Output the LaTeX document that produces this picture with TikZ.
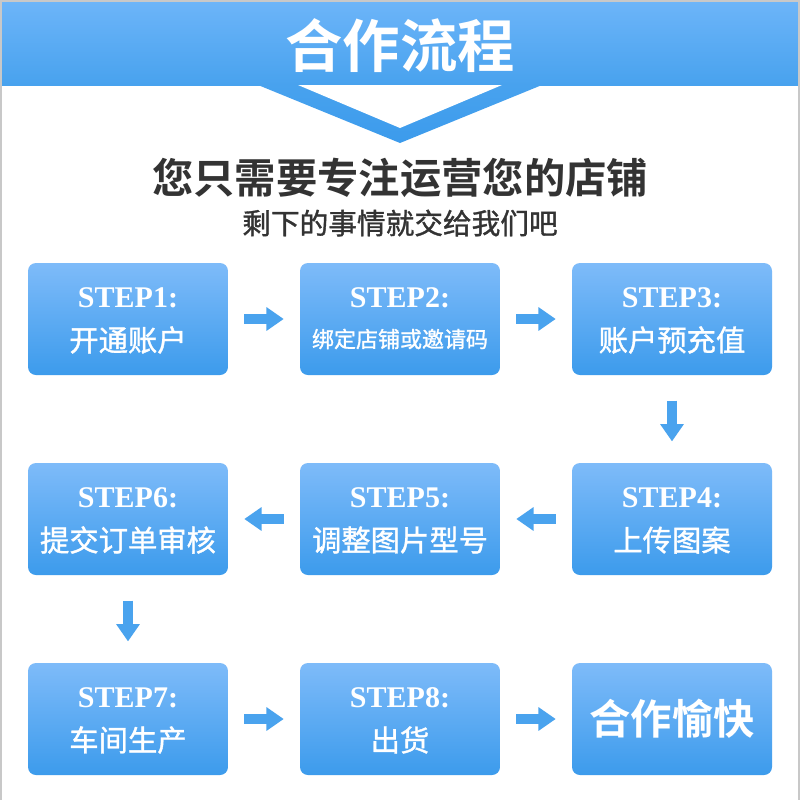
\documentclass[tikz,border=0pt]{standalone}
\usepackage{fontspec}
\usetikzlibrary{arrows.meta}
\newfontfamily\cjk{Noto Sans CJK SC}[BoldFont={Noto Sans CJK SC Bold}]
\newfontfamily\cjkmed{Noto Sans CJK SC}[FakeBold=1.2]
\newfontfamily\stepfont{Liberation Serif}[BoldFont={Liberation Serif Bold}]
\definecolor{bannertop}{HTML}{6DB5F9}
\definecolor{bannerbot}{HTML}{48A2EE}
\definecolor{boxtop}{HTML}{7EBBF9}
\definecolor{boxbot}{HTML}{3C9BEC}
\definecolor{arrowblue}{HTML}{4AA3EE}
\definecolor{darktext}{HTML}{333333}
\definecolor{framegray}{HTML}{C8C8C8}
\begin{document}
\begin{tikzpicture}[x=0.75pt,y=-0.75pt,
  stepbox/.style={rounded corners=6pt, top color=boxtop, bottom color=boxbot,
    minimum width=150pt, minimum height=84pt, inner sep=0pt, draw=none},
  flowarrow/.style={draw=arrowblue, line width=7pt,
    -{Triangle[length=13pt,width=17pt]}, shorten <=12pt, shorten >=12pt},
  steplabel/.style={text=white, font=\stepfont\bfseries\fontsize{22.5pt}{24pt}\selectfont},
  cnlabel/.style={text=white, font=\cjkmed\fontsize{22pt}{24pt}\selectfont}
]
\useasboundingbox (0,0) rectangle (800,800);
\fill[white] (0,0) rectangle (800,800);
% banner
\shade[top color=bannertop, bottom color=bannerbot] (0,0) rectangle (800,85);
% chevron
\shade[top color=bannerbot, bottom color=boxbot] (258,85) -- (542,85) -- (400,143) -- cycle;
\fill[white] (298,85) -- (502,85) -- (400,128) -- cycle;
\draw[framegray, line width=1.5pt] (0.75,800) -- (0.75,0.75) -- (799.25,0.75) -- (799.25,800);
% titles
\node[text=white, font=\cjk\bfseries\fontsize{43pt}{45pt}\selectfont] (title) at (400,46) {合作流程};
\node[text=darktext, font=\cjk\bfseries\fontsize{31pt}{33pt}\selectfont] (sub1) at (400,178) {您只需要专注运营您的店铺};
\node[text=darktext, font=\cjkmed\fontsize{21.5pt}{23pt}\selectfont] (sub2) at (400,223) {剩下的事情就交给我们吧};
% boxes
\node[stepbox] (s1) at (128,319) {};
\node[stepbox] (s2) at (400,319) {};
\node[stepbox] (s3) at (672,319) {};
\node[stepbox] (s4) at (672,519) {};
\node[stepbox] (s5) at (400,519) {};
\node[stepbox] (s6) at (128,519) {};
\node[stepbox] (s7) at (128,719) {};
\node[stepbox] (s8) at (400,719) {};
\node[stepbox] (s9) at (672,719) {};
% labels
\foreach \n/\x/\y/\s/\t in {1/128/319/STEP1:/开通账户, 3/672/319/STEP3:/账户预充值,
  4/672/519/STEP4:/上传图案, 5/400/519/STEP5:/调整图片型号, 6/128/519/STEP6:/提交订单审核,
  7/128/719/STEP7:/车间生产, 8/400/719/STEP8:/出货}{
  \node[steplabel] (h\n) at (\x,\y-21) {\s};
  \node[cnlabel] (c\n) at (\x,\y+21) {\t};
}
\node[steplabel] (h2) at (400,298) {STEP2:};
\node[text=white, font=\cjkmed\fontsize{16.5pt}{18pt}\selectfont] (c2) at (400,339) {绑定店铺或邀请码};
\node[text=white, font=\cjk\bfseries\fontsize{31pt}{33pt}\selectfont] (c9) at (672,719) {合作愉快};
% arrows
\draw[flowarrow] (s1) -- (s2);
\draw[flowarrow] (s2) -- (s3);
\draw[flowarrow, shorten <=19pt, shorten >=16pt] (s3) -- (s4);
\draw[flowarrow] (s4) -- (s5);
\draw[flowarrow] (s5) -- (s6);
\draw[flowarrow, shorten <=19pt, shorten >=16pt] (s6) -- (s7);
\draw[flowarrow] (s7) -- (s8);
\draw[flowarrow] (s8) -- (s9);
\end{tikzpicture}
\end{document}
